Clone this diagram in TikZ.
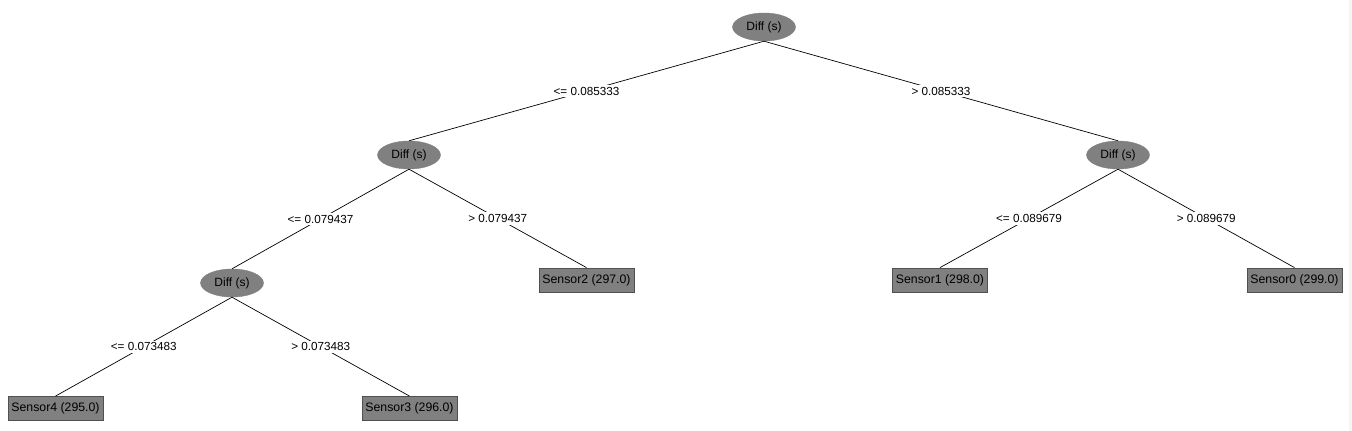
\documentclass[tikz,border=0pt]{standalone}
\usepackage{fontspec}
\setmainfont{Liberation Sans}
\usetikzlibrary{shapes.geometric}
\definecolor{nodegray}{RGB}{128,128,128}
\definecolor{edgegray}{RGB}{80,80,80}
\tikzset{
  splitnode/.style={ellipse, fill=nodegray, draw=nodegray, minimum width=63pt, minimum height=28pt, inner sep=0pt, font=\fontsize{12}{12}\selectfont},
  leafnode/.style={rectangle, fill=nodegray, draw=edgegray, line width=0.8pt, minimum width=95pt, minimum height=24pt, inner sep=0pt, font=\fontsize{12.3}{12}\selectfont},
  edgelabel/.style={fill=white, inner xsep=6pt, inner ysep=2pt, font=\fontsize{11.7}{12}\selectfont},
  conn/.style={draw=black, line width=0.7pt}
}
\begin{document}
\begin{tikzpicture}[x=1pt,y=-1pt]
\useasboundingbox (0,0) rectangle (1352,431);
\fill[white] (0,0) rectangle (1352,431);
\fill[black!4] (1349,0) rectangle (1352,431);
% nodes
\node[splitnode] (r) at (764,27) {Diff (s)};
\node[splitnode] (l) at (409,155) {Diff (s)};
\node[splitnode] (rr) at (1118,155) {Diff (s)};
\node[splitnode] (ll) at (232,283) {Diff (s)};
\node[leafnode] (s2) at (586.5,280) {Sensor2 (297.0)};
\node[leafnode] (s1) at (940,280) {Sensor1 (298.0)};
\node[leafnode] (s0) at (1294.5,280) {Sensor0 (299.0)};
\node[leafnode] (s4) at (55.5,408.5) {Sensor4 (295.0)};
\node[leafnode] (s3) at (409.5,408.5) {Sensor3 (296.0)};
% edges
\draw[conn] (r.south) -- node[edgelabel] {<= 0.085333} (l.north);
\draw[conn] (r.south) -- node[edgelabel] {> 0.085333} (rr.north);
\draw[conn] (l.south) -- node[edgelabel] {<= 0.079437} (ll.north);
\draw[conn] (l.south) -- node[edgelabel] {> 0.079437} (s2.north);
\draw[conn] (rr.south) -- node[edgelabel] {<= 0.089679} (s1.north);
\draw[conn] (rr.south) -- node[edgelabel] {> 0.089679} (s0.north);
\draw[conn] (ll.south) -- node[edgelabel] {<= 0.073483} (s4.north);
\draw[conn] (ll.south) -- node[edgelabel] {> 0.073483} (s3.north);
\end{tikzpicture}
\end{document}
